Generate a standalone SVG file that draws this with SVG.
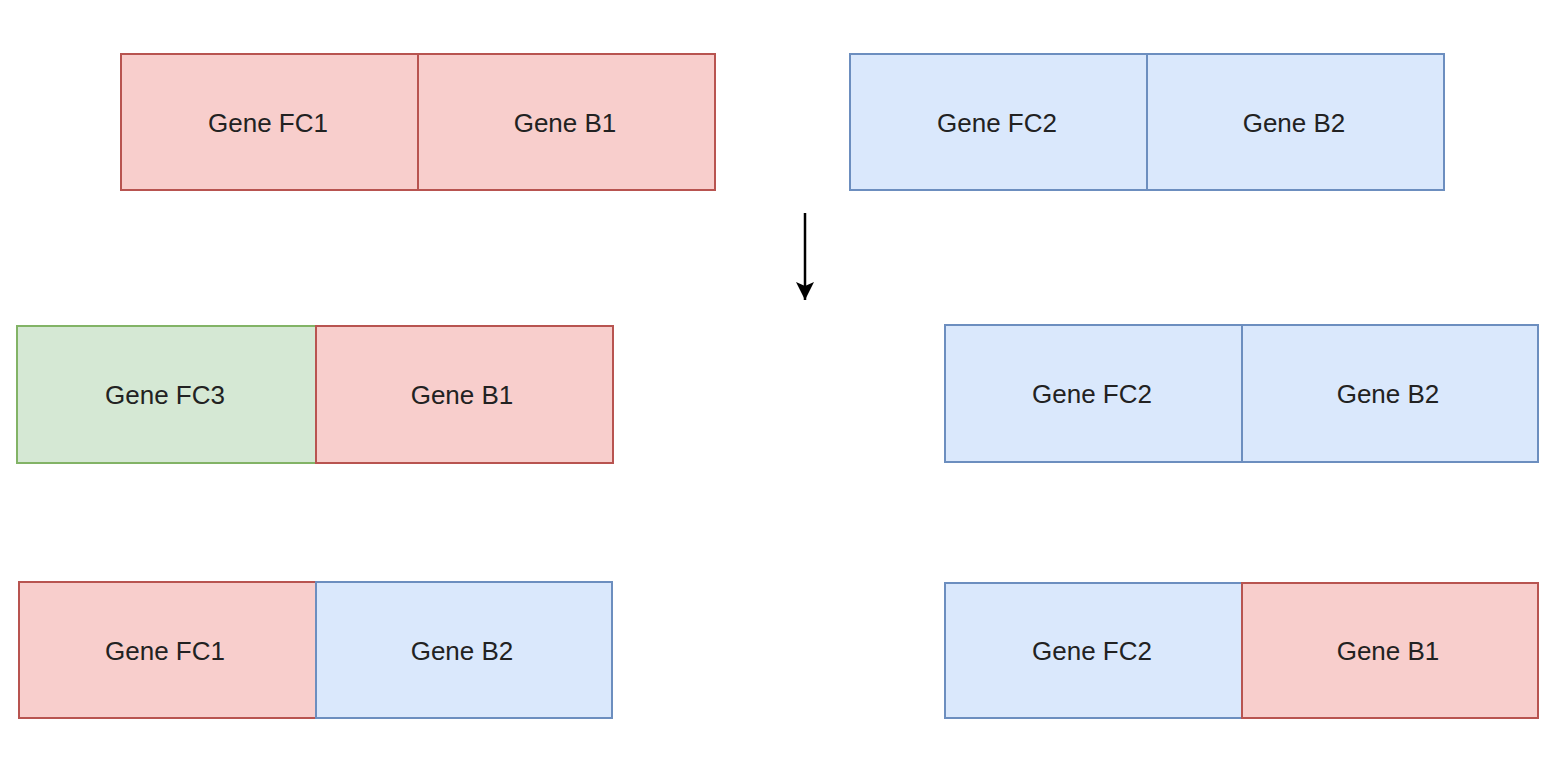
<svg xmlns="http://www.w3.org/2000/svg" width="1560" height="764" viewBox="0 0 1560 764">
<style>
.red{fill:#f8cecc;stroke:#b85450;stroke-width:2}
.blue{fill:#dae8fc;stroke:#6c8ebf;stroke-width:2}
.green{fill:#d5e8d4;stroke:#82b366;stroke-width:2}
text{font-family:"Liberation Sans",Arial,sans-serif;font-size:26px;fill:#222;text-anchor:middle;dominant-baseline:central}
</style>
<defs>
<marker id="ah" markerWidth="18" markerHeight="18" refX="18" refY="9" orient="auto" markerUnits="userSpaceOnUse" viewBox="0 0 18 18">
<path d="M0,0 L18,9 L0,18 L4,9 Z" fill="#000"/>
</marker>
</defs>
<rect width="1560" height="764" fill="#fff"/>
<g id="n1"><rect class="red" x="121" y="54" width="297" height="136"/><text x="268" y="123">Gene FC1</text></g>
<g id="n2"><rect class="red" x="418" y="54" width="297" height="136"/><text x="565" y="123">Gene B1</text></g>
<g id="n3"><rect class="blue" x="850" y="54" width="297" height="136"/><text x="997" y="123">Gene FC2</text></g>
<g id="n4"><rect class="blue" x="1147" y="54" width="297" height="136"/><text x="1294" y="123">Gene B2</text></g>
<g id="n5"><rect class="green" x="17" y="326" width="299" height="137"/><text x="165" y="395">Gene FC3</text></g>
<g id="n6"><rect class="red" x="316" y="326" width="297" height="137"/><text x="462" y="395">Gene B1</text></g>
<g id="n7"><rect class="blue" x="945" y="325" width="297" height="137"/><text x="1092" y="394">Gene FC2</text></g>
<g id="n8"><rect class="blue" x="1242" y="325" width="296" height="137"/><text x="1388" y="394">Gene B2</text></g>
<g id="n9"><rect class="red" x="19" y="582" width="297" height="136"/><text x="165" y="651">Gene FC1</text></g>
<g id="n10"><rect class="blue" x="316" y="582" width="296" height="136"/><text x="462" y="651">Gene B2</text></g>
<g id="n11"><rect class="blue" x="945" y="583" width="297" height="135"/><text x="1092" y="651">Gene FC2</text></g>
<g id="n12"><rect class="red" x="1242" y="583" width="296" height="135"/><text x="1388" y="651">Gene B1</text></g>
<g id="connectors">
<path d="M805,213 L805,300" stroke="#000" stroke-width="2.5" fill="none" marker-end="url(#ah)"/>
</g>
</svg>
